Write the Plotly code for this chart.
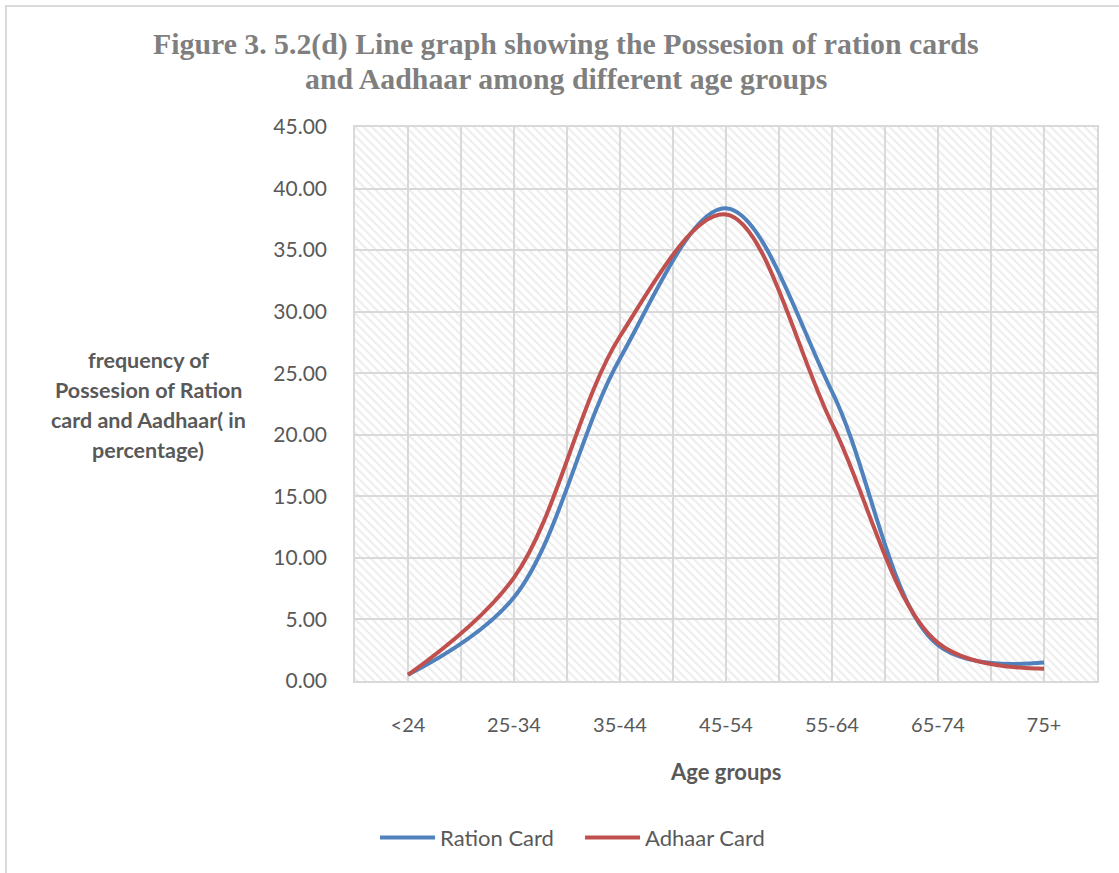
import plotly.graph_objects as go

categories = ["<24", "25-34", "35-44", "45-54", "55-64", "65-74", "75+"]
ration_card = [0.5, 6.8, 26.2, 38.4, 23.5, 2.9, 1.5]
adhaar_card = [0.5, 8.4, 28.0, 37.9, 20.9, 3.1, 1.0]
y_ticks = [0, 5, 10, 15, 20, 25, 30, 35, 40, 45]

x_idx = list(range(len(categories)))
xr = [-0.5, len(categories) - 0.5]
yr = [0, 45]

TXT = "#595959"
GRID = "#d9d9d9"
SANS = "Lato, 'Open Sans', sans-serif"
SERIF = "'Liberation Serif', 'DejaVu Serif', serif"

fig = go.Figure()

# hatched plot-area background
fig.add_trace(go.Scatter(
    x=[xr[0], xr[1], xr[1], xr[0], xr[0]],
    y=[yr[0], yr[0], yr[1], yr[1], yr[0]],
    mode="none", fill="toself", fillcolor="#d0d0d0",
    fillpattern=dict(shape="\\", fgcolor="#d9d9d9", bgcolor="rgba(0,0,0,0)",
                     size=6, solidity=0.33),
    hoverinfo="skip", showlegend=False,
))

fig.add_trace(go.Scatter(
    x=x_idx, y=ration_card, name="Ration Card", mode="lines",
    line=dict(color="#4f81bd", width=4, shape="spline", smoothing=1.0),
))
fig.add_trace(go.Scatter(
    x=x_idx, y=adhaar_card, name="Adhaar Card", mode="lines",
    line=dict(color="#c0504d", width=4, shape="spline", smoothing=1.0),
))

fig.update_layout(
    width=1119, height=873,
    margin=dict(l=355, r=22, t=127, b=192),
    paper_bgcolor="white", plot_bgcolor="white",
    font=dict(family=SANS, color=TXT),
    showlegend=True,
    legend=dict(orientation="h", x=0.027, xanchor="left",
                y=-0.283, yanchor="middle", itemwidth=55,
                font=dict(size=22, color=TXT, family=SANS),
                entrywidth=135, bgcolor="rgba(0,0,0,0)"),
    xaxis=dict(
        range=xr, tickmode="array", tickvals=x_idx, ticktext=categories,
        showgrid=True, gridcolor=GRID, gridwidth=1.5,
        minor=dict(tick0=-0.5, dtick=1, showgrid=True, gridcolor=GRID, gridwidth=1.5),
        zeroline=False, showline=True, linecolor=GRID, linewidth=1.5, mirror=True,
        ticks="", ticklabelstandoff=25,
        tickfont=dict(size=20, color=TXT, family=SANS),
    ),
    yaxis=dict(
        range=yr, tickmode="array", tickvals=y_ticks,
        ticktext=[f"{v:.2f}" for v in y_ticks],
        showgrid=True, gridcolor=GRID, gridwidth=1.5,
        zeroline=False, showline=True, linecolor=GRID, linewidth=1.5, mirror=True,
        ticks="", ticklabelstandoff=22,
        tickfont=dict(size=21, color=TXT, family=SANS),
    ),
)

# outer chart frame
fig.add_shape(type="rect", xref="paper", yref="paper",
              x0=(6 - 355) / 742, x1=(1140 - 355) / 742,
              y0=-(900 - 681) / 554, y1=1 + (127 - 6) / 554,
              line=dict(color=GRID, width=2), fillcolor="rgba(0,0,0,0)", layer="below")

# title
fig.add_annotation(xref="paper", yref="paper", x=(566 - 355) / 742, y=1 + (127 - 44) / 554,
                   text="<b>Figure 3. 5.2(d) Line graph showing the Possesion of ration cards</b>",
                   showarrow=False, xanchor="center", yanchor="middle",
                   font=dict(family=SERIF, size=29.8, color="#7f7f7f"))
fig.add_annotation(xref="paper", yref="paper", x=(566 - 355) / 742, y=1 + (127 - 78) / 554,
                   text="<b>and Aadhaar among different age groups</b>",
                   showarrow=False, xanchor="center", yanchor="middle",
                   font=dict(family=SERIF, size=29.8, color="#7f7f7f"))

# y axis title lines
ylines = ["frequency of", "Possesion of Ration", "card and Aadhaar( in", "percentage)"]
for i, t in enumerate(ylines):
    fig.add_annotation(xref="paper", yref="paper", x=(148 - 355) / 742,
                       y=(681 - (360 + 30 * i)) / 554,
                       text=f"<b>{t}</b>", showarrow=False, xanchor="center", yanchor="middle",
                       font=dict(family=SANS, size=21.5, color=TXT))

# x axis title
fig.add_annotation(xref="paper", yref="paper", x=0.5, y=-(771 - 681) / 554,
                   text="<b>Age groups</b>", showarrow=False, xanchor="center", yanchor="middle",
                   font=dict(family=SANS, size=22, color=TXT))

fig.write_html("out.html")
